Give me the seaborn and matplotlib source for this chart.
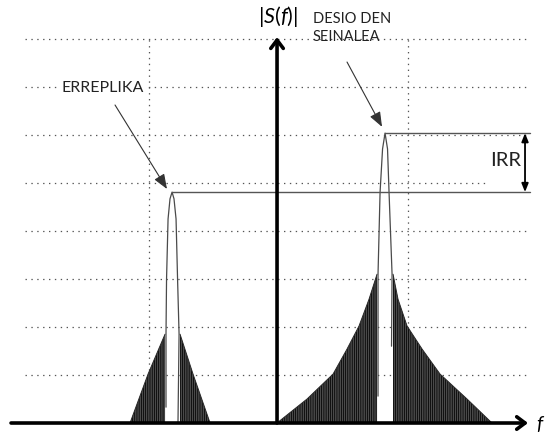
import numpy as np
import pandas as pd
import matplotlib
matplotlib.use("Agg")
import matplotlib.pyplot as plt
import seaborn as sns

# ---------------- data (f: desired carrier at f=1, amplitude: one grid step = 1) -------------
grid_levels = [1, 2, 3, 4, 5, 6, 7, 8]
grid_freqs = [-1.185, 1.213]

desired_side_left_f = [0.0, 0.278, 0.519, 0.648, 0.759, 0.852, 0.926]
desired_side_left_a = [0.0, 0.50, 1.02, 1.54, 2.02, 2.58, 3.10]
desired_side_right_f = [1.074, 1.120, 1.204, 1.343, 1.509, 1.759, 1.990]
desired_side_right_a = [3.10, 2.58, 2.02, 1.54, 1.02, 0.50, 0.0]

image_side_left_f = [-1.361, -1.194, -1.037]
image_side_left_a = [0.0, 1.02, 1.85]
image_side_right_f = [-0.898, -0.778, -0.620]
image_side_right_a = [1.85, 1.02, 0.0]

desired_lobe_f = [0.935, 0.935, 0.954, 0.977, 1.000, 1.023, 1.037, 1.065, 1.060]
desired_lobe_a = [0.56, 3.10, 4.81, 5.71, 6.04, 5.71, 4.81, 3.10, 1.60]

image_lobe_f = [-1.028, -1.028, -1.023, -1.009, -0.991, -0.972, -0.954, -0.935, -0.921, -0.907, -0.917]
image_lobe_a = [0.33, 1.85, 3.00, 4.25, 4.67, 4.81, 4.67, 4.25, 3.00, 1.85, 0.02]

desired_peak = (1.0, 6.04)
image_peak = (-0.972, 4.81)

labels = {"image": "ERREPLIKA", "desired": "DESIO DEN\nSEINALEA", "irr": "IRR",
          "yaxis": r"|$\mathit{S(f)}$|", "xaxis": "f"}

# ---------------- figure --------------------------------------------------------------------
sns.set_style("white")
plt.rcParams["font.family"] = ["Lato", "DejaVu Sans"]
plt.rcParams["mathtext.fontset"] = "custom"
plt.rcParams["mathtext.it"] = "Lato:italic"
plt.rcParams["mathtext.rm"] = "Lato"
plt.rcParams["hatch.linewidth"] = 1.0

fig = plt.figure(figsize=(5.45, 4.35), dpi=100)
ax = fig.add_axes([0, 0, 1, 1])
ax.set_xlim(-2.565, 2.481)
ax.set_ylim(-0.229, 8.833)
ax.axis("off")

dot = dict(color="#555555", lw=0.9, ls=(0, (1.1, 3.6)))
# horizontal grid
for g in grid_levels:
    x_end = 1.926 if g == 5 else 2.343
    ax.plot([-2.333, x_end], [g, g], zorder=1, **dot)
# vertical grid
for gf in grid_freqs:
    ax.plot([gf, gf], [0, 8.0], zorder=1, **dot)

# side-lobe combs (dense vertical hatching)
def comb(fs, amps):
    ax.fill_between(fs, 0, amps, facecolor="#8e8e8e", edgecolor="#111111",
                    hatch="|||||||||", lw=0, zorder=2)
    ax.plot(fs, amps, color="#2a2a2a", lw=0.7, zorder=3)

comb(desired_side_left_f, desired_side_left_a)
comb(desired_side_right_f, desired_side_right_a)
comb(image_side_left_f, image_side_left_a)
comb(image_side_right_f, image_side_right_a)

# main lobes
lobes = pd.DataFrame({
    "f": desired_lobe_f + image_lobe_f,
    "a": desired_lobe_a + image_lobe_a,
    "which": ["desired"] * len(desired_lobe_f) + ["image"] * len(image_lobe_f),
})
sns.lineplot(data=lobes, x="f", y="a", units="which", estimator=None, sort=False,
             color="#4a4a4a", lw=0.9, ax=ax, zorder=4, legend=False)
ax.set_xlabel("")
ax.set_ylabel("")

# reference levels
ax.plot([desired_peak[0], 2.343], [desired_peak[1]] * 2, color="#555555", lw=1.0, zorder=4)
ax.plot([image_peak[0], 2.343], [image_peak[1]] * 2, color="#555555", lw=1.0, zorder=4)

# axes with arrows
ax.annotate("", xy=(2.324, 0), xytext=(-2.463, 0),
            arrowprops=dict(arrowstyle="->,head_length=0.6,head_width=0.45", lw=2.6,
                            color="black", shrinkA=0, shrinkB=0), zorder=6)
ax.annotate("", xy=(0, 8.04), xytext=(0, 0),
            arrowprops=dict(arrowstyle="->,head_length=0.6,head_width=0.45", lw=2.6,
                            color="black", shrinkA=0, shrinkB=0), zorder=6)

# IRR double arrow
ax.annotate("", xy=(2.296, desired_peak[1]), xytext=(2.296, image_peak[1]),
            arrowprops=dict(arrowstyle="<|-|>,head_length=0.5,head_width=0.2", lw=1.3,
                            color="black", shrinkA=0, shrinkB=0), zorder=6)
ax.text(2.259, 5.48, labels["irr"], ha="right", va="center", fontsize=14.5, color="#222222")

# labels
ax.text(0.01, 8.48, labels["yaxis"], ha="center", va="center", fontsize=15.5, color="black")
ax.text(2.43, 0.0, labels["xaxis"], ha="center", va="center", fontsize=14,
        style="italic", color="black")

ax.text(-1.611, 7.0, labels["image"], ha="center", va="center", fontsize=11.5, color="#222222",
        bbox=dict(facecolor="white", edgecolor="none", pad=3), zorder=5)
ax.annotate("", xy=(-1.019, 4.875), xytext=(-1.50, 6.625),
            arrowprops=dict(arrowstyle="-|>,head_length=0.9,head_width=0.35", lw=0.8,
                            color="#333333", shrinkA=0, shrinkB=0), zorder=6)

ax.text(0.333, 8.25, labels["desired"], ha="left", va="center", fontsize=10.5,
        color="#222222", linespacing=1.45, zorder=5)
ax.annotate("", xy=(0.972, 6.17), xytext=(0.648, 7.52),
            arrowprops=dict(arrowstyle="-|>,head_length=0.9,head_width=0.35", lw=0.8,
                            color="#333333", shrinkA=0, shrinkB=0), zorder=6)

fig.savefig("out.png", dpi=100)
